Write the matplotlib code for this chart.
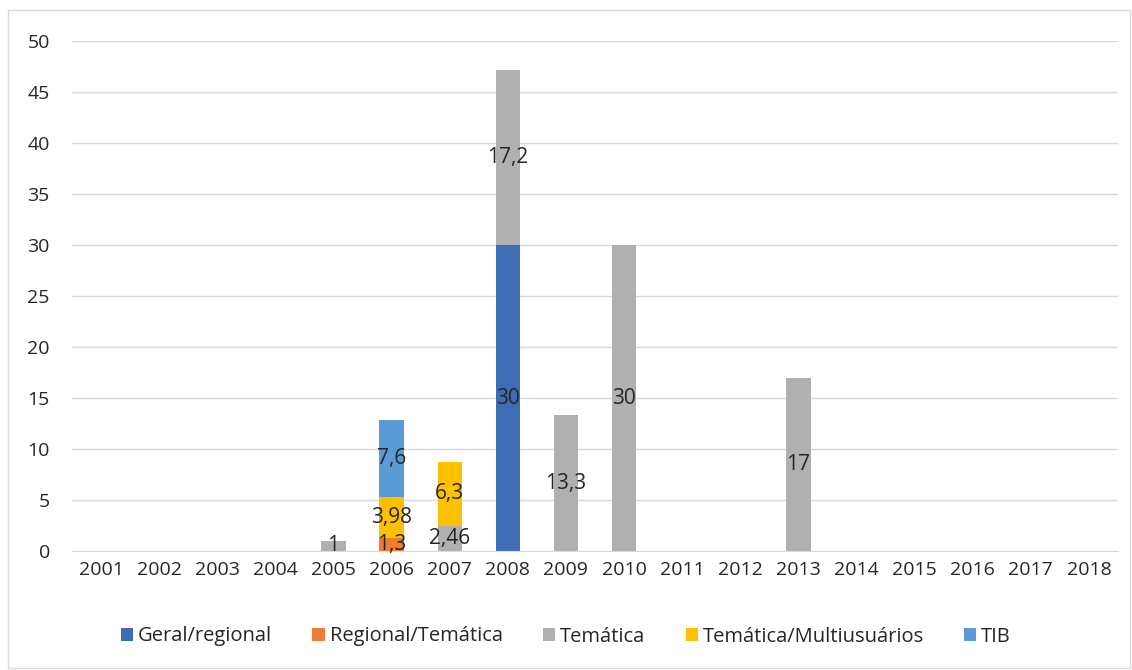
import matplotlib.pyplot as plt
import numpy as np
from matplotlib.patches import Rectangle

plt.rcParams['font.family'] = ['Open Sans', 'DejaVu Sans']

# DADOS
anos = ['2001', '2002', '2003', '2004', '2005', '2006', '2007', '2008', '2009',
        '2010', '2011', '2012', '2013', '2014', '2015', '2016', '2017', '2018']
series = ['Geral/regional', 'Regional/Temática', 'Temática',
          'Temática/Multiusuários', 'TIB']
geral = [0, 0, 0, 0, 0, 0, 0, 30, 0, 0, 0, 0, 0, 0, 0, 0, 0, 0]
regional_tem = [0, 0, 0, 0, 0, 1.3, 0, 0, 0, 0, 0, 0, 0, 0, 0, 0, 0, 0]
tematica = [0, 0, 0, 0, 1, 0, 2.46, 17.2, 13.3, 30, 0, 0, 17, 0, 0, 0, 0, 0]
tem_multi = [0, 0, 0, 0, 0, 3.98, 6.3, 0, 0, 0, 0, 0, 0, 0, 0, 0, 0, 0]
tib = [0, 0, 0, 0, 0, 7.6, 0, 0, 0, 0, 0, 0, 0, 0, 0, 0, 0, 0]
cores = ['#3E6DB5', '#ED7D31', '#B0B0B0', '#FFC000', '#5B9BD5']

# GRAFICA
fig = plt.figure(figsize=(11.32, 6.7), dpi=100)
ax = fig.add_axes([0.0636, 0.1776, 0.924, 0.7612])
fig.patches.append(Rectangle((0.007, 0.003), 0.991, 0.982, transform=fig.transFigure,
                             fill=False, edgecolor='#D9D9D9', linewidth=1))

x = np.arange(len(anos))
base = np.zeros(len(anos))
for nome, valores, cor in zip(series, [geral, regional_tem, tematica, tem_multi, tib], cores):
    v = np.array(valores, dtype=float)
    ax.bar(x, v, 0.42, bottom=base, color=cor, label=nome, zorder=2)
    for xi, b, vi in zip(x, base, v):
        if vi > 0:
            ax.text(xi, b + vi / 2, ('%g' % vi).replace('.', ','), ha='center',
                    va='center', fontsize=15, color='#262626', zorder=3)
    base = base + v

ax.set_xlim(-0.5, len(anos) - 0.5)
ax.set_ylim(0, 50)
ax.set_yticks(range(0, 51, 5))
ax.set_xticks(x)
ax.set_xticklabels(anos)
ax.tick_params(length=0, labelsize=14, colors='#262626', pad=7)
ax.tick_params(axis='y', pad=16)
ax.grid(axis='y', color='#D9D9D9', linewidth=1, zorder=0)
for s in ['top', 'right', 'left']:
    ax.spines[s].set_visible(False)
ax.spines['bottom'].set_color('#D9D9D9')

fig.legend(loc='center', bbox_to_anchor=(0.5, 0.05), ncol=5, frameon=False,
           fontsize=14.5, handlelength=0.6, handleheight=0.6, handletextpad=0.25,
           columnspacing=2.0, labelcolor='#262626')

plt.savefig('out.png')
